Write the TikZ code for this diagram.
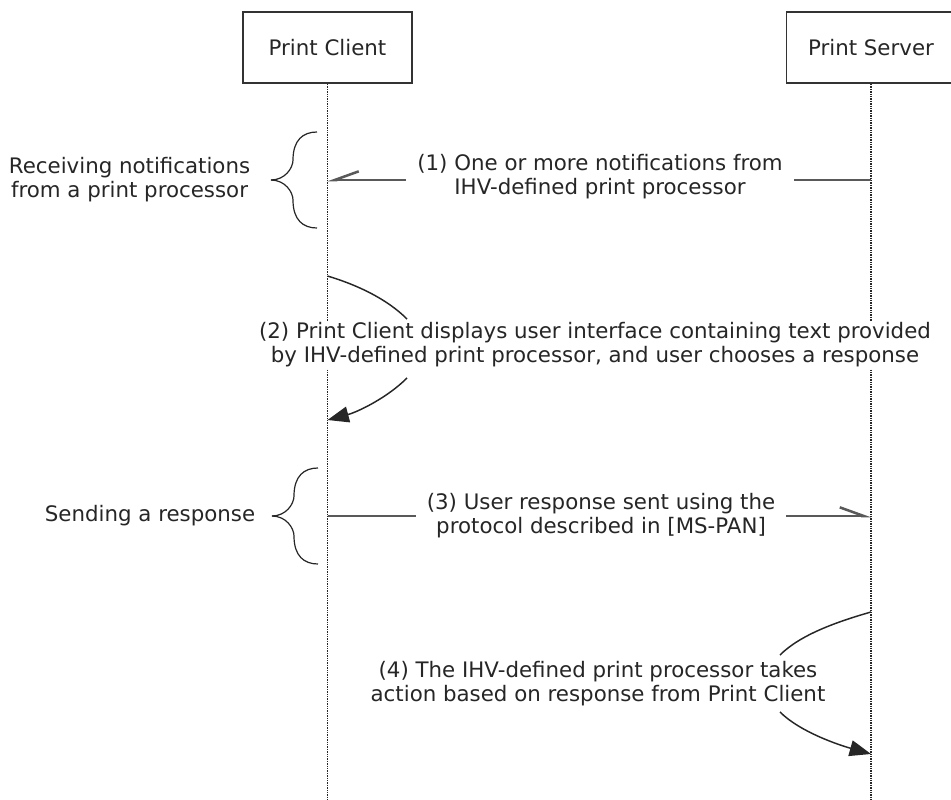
\documentclass[tikz,border=0pt]{standalone}
\usepackage{fontspec}
\setmainfont{DejaVu Sans}
\usetikzlibrary{arrows.meta,positioning}

\begin{document}
\begin{tikzpicture}[x=0.75pt,y=-0.75pt,semithick,font=\fontsize{16}{18}\selectfont,text=black!85]
                \tikzstyle{party}=[draw=black!80,line width=1.4pt,minimum width=126.75pt,minimum height=53.25pt,inner sep=0pt]
                \tikzstyle{lifeline}=[draw=black!85,line width=1.2pt,dash pattern=on 1.1pt off 0.7pt]
                \tikzstyle{msg}=[draw=black!65,line width=1.9pt]
                \tikzstyle{msg-text}=[fill=white,align=center,inner xsep=8pt,inner ysep=1pt]
                \tikzstyle{call}=[draw=black!85,line width=1.1pt]
                \tikzstyle{brace}=[draw=black!85,line width=0.9pt]
                \tikzstyle{barb-up-left}=[-{Straight Barb[right,length=18pt,width=13pt]}]
                \tikzstyle{barb-up-right}=[-{Straight Barb[left,length=18pt,width=13pt]}]
                \tikzstyle{solid-tip}=[-{Triangle[length=16pt,width=12pt]}]

                \useasboundingbox (0,0) rectangle (951,800);

                \node[party] (client) at (327.5,47.5) {Print Client};
                \node[party] (server) at (871,47.5) {Print Server};
                \coordinate (client-end) at (327.5,800);
                \coordinate (server-end) at (871,800);
                \path (client) edge[lifeline] (client-end);
                \path (server) edge[lifeline] (server-end);

                % (1)
                \coordinate (s1) at (871,180);
                \coordinate (c1) at (327.5,180);
                \node[msg-text] (m1) at (600,177) {(1) One or more notifications from\\IHV-defined print processor};
                \draw[msg] (s1) -- (s1 -| m1.east);
                \draw[msg,barb-up-left] (c1 -| m1.west) -- (c1);

                \coordinate (brc1) at (271,180);
                \draw[brace] (brc1) .. controls +(14,0) and +(0,8) .. ++(22,-20) .. controls +(0,-20) and +(-14,0) .. ++(24,-28);
                \draw[brace] (brc1) .. controls +(14,0) and +(0,-8) .. ++(22,20) .. controls +(0,20) and +(-14,0) .. ++(24,28);
                \node[align=center] (lbl1) [left=12pt of brc1] {Receiving notifications\\from a print processor};

                % (2)
                \coordinate (c2a) at (327.5,276);
                \coordinate (c2b) at (327.5,420);
                \coordinate (t2a) at (407,319);
                \coordinate (t2b) at (407,378);
                \node[msg-text] (m2) at (595,345) {(2) Print Client displays user interface containing text provided\\by IHV-defined print processor, and user chooses a response};
                \draw[call] (c2a) .. controls +(30,9) and +(-20,-20) .. (t2a);
                \draw[call,solid-tip] (t2b) .. controls +(-20,20) and +(30,-8) .. (c2b);

                % (3)
                \coordinate (c3) at (327.5,516);
                \coordinate (s3) at (871,516);
                \node[msg-text] (m3) at (601,516) {(3) User response sent using the\\protocol described in [MS-PAN]};
                \draw[msg] (c3) -- (c3 -| m3.west);
                \draw[msg,barb-up-right] (s3 -| m3.east) -- (s3);

                \coordinate (brc2) at (272,516);
                \draw[brace] (brc2) .. controls +(14,0) and +(0,8) .. ++(22,-20) .. controls +(0,-20) and +(-14,0) .. ++(24,-28);
                \draw[brace] (brc2) .. controls +(14,0) and +(0,-8) .. ++(22,20) .. controls +(0,20) and +(-14,0) .. ++(24,28);
                \node (lbl2) [left=9pt of brc2] {Sending a response};

                % (4)
                \coordinate (s4a) at (871,612);
                \coordinate (s4b) at (871,754);
                \coordinate (t4a) at (780,655);
                \coordinate (t4b) at (780,712);
                \node[msg-text] (m4) at (598,684) {(4) The IHV-defined print processor takes\\action based on response from Print Client};
                \draw[call] (s4a) .. controls +(-35,10) and +(20,-20) .. (t4a);
                \draw[call,solid-tip] (t4b) .. controls +(20,20) and +(-32,-9) .. (s4b);
\end{tikzpicture}
\end{document}
